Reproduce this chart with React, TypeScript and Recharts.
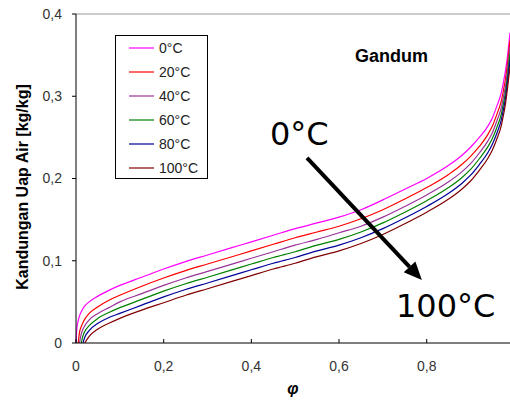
import React from 'react';
import { LineChart, Line, XAxis, YAxis, ReferenceLine } from 'recharts';

const phi = [0, 0.002, 0.005, 0.008, 0.012, 0.016, 0.02, 0.03, 0.05, 0.075, 0.1, 0.15, 0.2, 0.25, 0.3, 0.35, 0.4, 0.45, 0.5, 0.55, 0.6, 0.65, 0.7, 0.75, 0.8, 0.85, 0.88, 0.9, 0.92, 0.94, 0.95, 0.96, 0.97, 0.975, 0.98, 0.985, 0.99];

const t0 = [0, 0.018, 0.027, 0.033, 0.038, 0.042, 0.045, 0.050, 0.057, 0.064, 0.070, 0.080, 0.090, 0.099, 0.107, 0.115, 0.123, 0.131, 0.139, 0.146, 0.153, 0.162, 0.174, 0.187, 0.200, 0.216, 0.228, 0.238, 0.250, 0.264, 0.274, 0.288, 0.304, 0.317, 0.332, 0.352, 0.377];
const t20 = [null, null, 0, 0.013, 0.020, 0.025, 0.029, 0.036, 0.044, 0.052, 0.058, 0.069, 0.079, 0.088, 0.096, 0.104, 0.112, 0.120, 0.128, 0.135, 0.142, 0.151, 0.162, 0.175, 0.189, 0.205, 0.217, 0.227, 0.239, 0.254, 0.264, 0.278, 0.294, 0.307, 0.322, 0.343, 0.368];
const t40 = [null, null, null, 0, 0.011, 0.017, 0.021, 0.028, 0.036, 0.043, 0.050, 0.060, 0.070, 0.079, 0.087, 0.095, 0.103, 0.111, 0.119, 0.126, 0.134, 0.142, 0.153, 0.166, 0.180, 0.196, 0.208, 0.218, 0.231, 0.246, 0.256, 0.270, 0.286, 0.299, 0.314, 0.335, 0.360];
const t60 = [null, null, null, null, 0, 0.009, 0.014, 0.021, 0.030, 0.037, 0.043, 0.053, 0.063, 0.072, 0.080, 0.088, 0.096, 0.104, 0.111, 0.119, 0.126, 0.135, 0.146, 0.159, 0.173, 0.189, 0.201, 0.211, 0.224, 0.239, 0.249, 0.262, 0.278, 0.291, 0.306, 0.327, 0.352];
const t80 = [null, null, null, null, null, 0, 0.007, 0.015, 0.024, 0.031, 0.036, 0.046, 0.056, 0.065, 0.073, 0.081, 0.089, 0.097, 0.104, 0.112, 0.119, 0.128, 0.139, 0.152, 0.166, 0.182, 0.194, 0.204, 0.217, 0.232, 0.242, 0.255, 0.271, 0.284, 0.299, 0.320, 0.344];
const t100 = [null, null, null, null, null, null, 0, 0.008, 0.017, 0.024, 0.030, 0.040, 0.049, 0.058, 0.066, 0.074, 0.082, 0.090, 0.097, 0.105, 0.112, 0.121, 0.132, 0.145, 0.159, 0.175, 0.187, 0.197, 0.210, 0.225, 0.235, 0.248, 0.264, 0.277, 0.292, 0.313, 0.336];

const seriesNames = ['0°C', '20°C', '40°C', '60°C', '80°C', '100°C'];
const seriesColors = ['#FF00FF', '#FF0000', '#993399', '#008000', '#000099', '#800000'];
const seriesValues = [t0, t20, t40, t60, t80, t100];
const xTicks = [0, 0.2, 0.4, 0.6, 0.8];
const yTicks = [0, 0.1, 0.2, 0.3, 0.4];
const arrowFrom = { x: 0.527, y: 0.225 };
const arrowTo = { x: 0.789, y: 0.0766 };

const data = phi.map((p, i) => {
  const row: Record<string, number | null> = { phi: p };
  seriesValues.forEach((vals, s) => {
    row['s' + s] = vals[i];
  });
  return row;
});

const fmt = (v: number) => String(v).replace('.', ',');

const ArrowShape = (props: any) => {
  const x1 = props.x1, y1 = props.y1, x2 = props.x2, y2 = props.y2;
  if ([x1, y1, x2, y2].some((v) => typeof v !== 'number')) return null;
  const dx = x2 - x1, dy = y2 - y1;
  const len = Math.sqrt(dx * dx + dy * dy);
  const ux = dx / len, uy = dy / len;
  const headLen = 18, headW = 8;
  const bx = x2 - ux * headLen, by = y2 - uy * headLen;
  const px = -uy, py = ux;
  return (
    <g>
      <line x1={x1} y1={y1} x2={bx} y2={by} stroke="#000" strokeWidth={4} />
      <polygon
        points={`${x2},${y2} ${bx + px * headW},${by + py * headW} ${bx - px * headW},${by - py * headW}`}
        fill="#000"
      />
    </g>
  );
};

export default function App() {
  return (
    <div style={{ position: 'absolute', left: 0, top: 0, width: 510, height: 401, background: '#fff' }}>
      <LineChart width={510} height={401} data={data} margin={{ top: 14, right: 0, left: 0, bottom: 0 }}>
        <XAxis
          dataKey="phi"
          type="number"
          domain={[0, 0.99]}
          ticks={xTicks}
          tickFormatter={fmt}
          height={58}
          stroke="#000"
          tickSize={-4}
          tickMargin={22}
          tick={{ fill: '#333', fontSize: 14, fontFamily: 'Liberation Sans' }}
          interval={0}
        />
        <YAxis
          type="number"
          domain={[0, 0.4]}
          ticks={yTicks}
          tickFormatter={fmt}
          width={76}
          stroke="#000"
          tickSize={4}
          tickMargin={10}
          tick={{ fill: '#333', fontSize: 14, fontFamily: 'Liberation Sans' }}
          interval={0}
        />
        <ReferenceLine y={0.4} stroke="#999" strokeWidth={1} />
        {seriesValues.map((_, s) => (
          <Line
            key={s}
            dataKey={'s' + s}
            name={seriesNames[s]}
            stroke={seriesColors[s]}
            strokeWidth={1.2}
            dot={false}
            type="monotone"
            isAnimationActive={false}
            connectNulls={false}
          />
        ))}
        <ReferenceLine segment={[arrowFrom, arrowTo]} shape={ArrowShape} />
      </LineChart>
      <svg width={510} height={401} style={{ position: 'absolute', left: 0, top: 0, pointerEvents: 'none' }}>
        <text
          x={22}
          y={187}
          transform="rotate(-90 22 187)"
          textAnchor="middle"
          dominantBaseline="central"
          fontFamily="Liberation Sans"
          fontWeight="bold"
          fontSize={16}
          fill="#000"
        >
          Kandungan Uap Air [kg/kg]
        </text>
        <text x={293} y={394} textAnchor="middle" fontFamily="Liberation Sans" fontWeight="bold" fontStyle="italic" fontSize={16} fill="#000">
          φ
        </text>
        <text x={355} y={62} fontFamily="Liberation Sans" fontWeight="bold" fontSize={18} fill="#000">
          Gandum
        </text>
        <text x={270} y={145} fontFamily="DejaVu Sans" fontSize={32} fill="#000">
          0°C
        </text>
        <text x={396} y={317} fontFamily="DejaVu Sans" fontSize={32} fill="#000">
          100°C
        </text>
        <rect x={115.5} y={35.5} width={92} height={143} fill="#fff" stroke="#000" strokeWidth={1} />
        {seriesNames.map((n, i) => (
          <g key={n}>
            <line x1={129} x2={154} y1={48 + i * 24} y2={48 + i * 24} stroke={seriesColors[i]} strokeWidth={1.2} />
            <text x={159} y={48 + i * 24} dominantBaseline="central" fontFamily="Liberation Sans" fontSize={14} fill="#222">
              {n}
            </text>
          </g>
        ))}
      </svg>
    </div>
  );
}
